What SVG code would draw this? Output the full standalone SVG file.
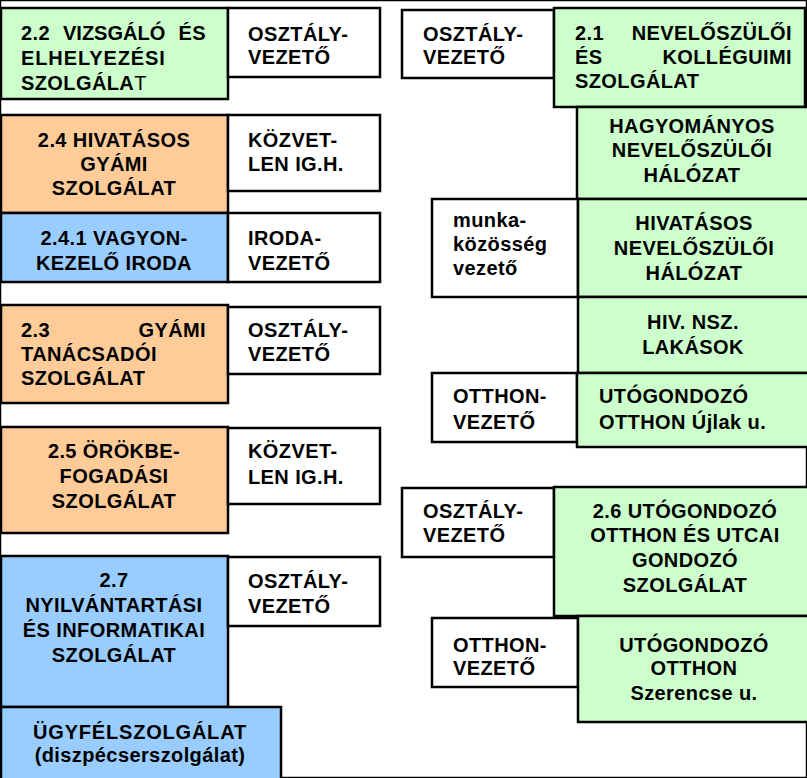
<svg xmlns="http://www.w3.org/2000/svg" width="807" height="778" viewBox="0 0 807 778">
<style>
rect{stroke:#000;stroke-width:2.5}
.g{fill:#CCFFCC}.o{fill:#FFCC99}.b{fill:#99CCFF}.w{fill:#FFFFFF}
text{font-family:"Liberation Sans",Arial,sans-serif;font-weight:bold;font-size:20px;fill:#000;letter-spacing:0.4px}
.c{text-anchor:middle}.e{text-anchor:end}
</style>
<rect x="0" y="0" width="807" height="778" fill="#fff" stroke="none"/>
<g id="connectors"></g>
<g id="n22"><rect class="g" x="1" y="8" width="227" height="91"/>
<text x="21" y="40">2.2</text><text x="63" y="40" style="letter-spacing:0">VIZSGÁLÓ</text><text class="e" x="206" y="40">ÉS</text>
<text x="21" y="65" style="letter-spacing:0.9px">ELHELYEZÉSI</text>
<text x="21" y="90">SZOLGÁLA<tspan font-weight="normal">T</tspan></text></g>
<g id="osz1"><rect class="w" x="228" y="8" width="152" height="69"/>
<text x="248" y="41">OSZTÁLY-</text><text x="248" y="64">VEZETŐ</text></g>
<g id="n24"><rect class="o" x="1" y="115" width="227" height="98"/>
<text class="c" x="114" y="147">2.4 HIVATÁSOS</text><text class="c" x="114" y="171">GYÁMI</text><text class="c" x="114" y="195">SZOLGÁLAT</text></g>
<g id="kozv1"><rect class="w" x="228" y="115" width="152" height="76"/>
<text x="248" y="147">KÖZVET-</text><text x="248" y="171">LEN IG.H.</text></g>
<g id="n241"><rect class="b" x="1" y="213" width="227" height="69"/>
<text class="c" x="114" y="245">2.4.1 VAGYON-</text><text class="c" x="114" y="270">KEZELŐ IRODA</text></g>
<g id="iroda"><rect class="w" x="228" y="213" width="152" height="69"/>
<text x="248" y="245">IRODA-</text><text x="248" y="270">VEZETŐ</text></g>
<g id="n23"><rect class="o" x="1" y="305" width="227" height="98"/>
<text x="21" y="337">2.3</text><text class="e" x="206" y="337">GYÁMI</text>
<text x="21" y="361">TANÁCSADÓI</text><text x="21" y="385">SZOLGÁLAT</text></g>
<g id="osz2"><rect class="w" x="228" y="307" width="152" height="67"/>
<text x="248" y="337">OSZTÁLY-</text><text x="248" y="361">VEZETŐ</text></g>
<g id="n25"><rect class="o" x="1" y="427" width="227" height="106"/>
<text class="c" x="114" y="458">2.5 ÖRÖKBE-</text><text class="c" x="114" y="483">FOGADÁSI</text><text class="c" x="114" y="508">SZOLGÁLAT</text></g>
<g id="kozv2"><rect class="w" x="228" y="428" width="152" height="76"/>
<text x="248" y="458">KÖZVET-</text><text x="248" y="484">LEN IG.H.</text></g>
<g id="n27"><rect class="b" x="1" y="556" width="227" height="151"/>
<text class="c" x="114" y="587">2.7</text><text class="c" x="114" y="612">NYILVÁNTARTÁSI</text><text class="c" x="114" y="637">ÉS INFORMATIKAI</text><text class="c" x="114" y="662">SZOLGÁLAT</text></g>
<g id="osz3"><rect class="w" x="228" y="557" width="152" height="69"/>
<text x="248" y="588">OSZTÁLY-</text><text x="248" y="613">VEZETŐ</text></g>
<g id="ugyf"><rect class="b" x="1" y="707" width="280" height="80"/>
<text class="c" x="140" y="739" style="letter-spacing:0.8px">ÜGYFÉLSZOLGÁLAT</text><text class="c" x="140" y="762">(diszpécserszolgálat)</text></g>
<g id="osz4"><rect class="w" x="402" y="10" width="152" height="68"/>
<text x="423" y="41">OSZTÁLY-</text><text x="423" y="64">VEZETŐ</text></g>
<g id="n21"><rect class="g" x="554" y="8" width="251" height="99"/>
<text x="575" y="40">2.1</text><text class="e" x="792" y="40">NEVELŐSZÜLŐI</text>
<text x="575" y="64">ÉS</text><text class="e" x="792" y="64">KOLLÉGUIMI</text>
<text x="575" y="88">SZOLGÁLAT</text></g>
<g id="hagy"><rect class="g" x="577" y="107" width="240" height="92"/>
<text class="c" x="692" y="133">HAGYOMÁNYOS</text><text class="c" x="692" y="157">NEVELŐSZÜLŐI</text><text class="c" x="692" y="182">HÁLÓZAT</text></g>
<g id="munka"><rect class="w" x="432" y="199" width="146" height="98"/>
<text x="453" y="227">munka-</text><text x="453" y="251">közösség</text><text x="453" y="275">vezető</text></g>
<g id="hivat"><rect class="g" x="578" y="199" width="240" height="98"/>
<text class="c" x="694" y="230">HIVATÁSOS</text><text class="c" x="694" y="255">NEVELŐSZÜLŐI</text><text class="c" x="694" y="280">HÁLÓZAT</text></g>
<g id="hivnsz"><rect class="g" x="578" y="297" width="240" height="76"/>
<text class="c" x="693" y="329">HIV. NSZ.</text><text class="c" x="693" y="354">LAKÁSOK</text></g>
<g id="otth1"><rect class="w" x="432" y="373" width="145" height="69"/>
<text x="453" y="403">OTTHON-</text><text x="453" y="429">VEZETŐ</text></g>
<g id="ujlak"><rect class="g" x="577" y="373" width="240" height="74"/>
<text x="599" y="403">UTÓGONDOZÓ</text><text x="599" y="429">OTTHON Újlak u.</text></g>
<g id="osz5"><rect class="w" x="402" y="488" width="152" height="69"/>
<text x="423" y="518">OSZTÁLY-</text><text x="423" y="542">VEZETŐ</text></g>
<g id="n26"><rect class="g" x="554" y="487" width="260" height="129"/>
<text class="c" x="685" y="518">2.6 UTÓGONDOZÓ</text><text class="c" x="685" y="542">OTTHON ÉS UTCAI</text><text class="c" x="685" y="567">GONDOZÓ</text><text class="c" x="685" y="592">SZOLGÁLAT</text></g>
<g id="otth2"><rect class="w" x="432" y="618" width="146" height="69"/>
<text x="453" y="652">OTTHON-</text><text x="453" y="675">VEZETŐ</text></g>
<g id="szer"><rect class="g" x="578" y="616" width="240" height="106"/>
<text class="c" x="694" y="652">UTÓGONDOZÓ</text><text class="c" x="694" y="675">OTTHON</text><text class="c" x="694" y="700">Szerencse u.</text></g>
</svg>
